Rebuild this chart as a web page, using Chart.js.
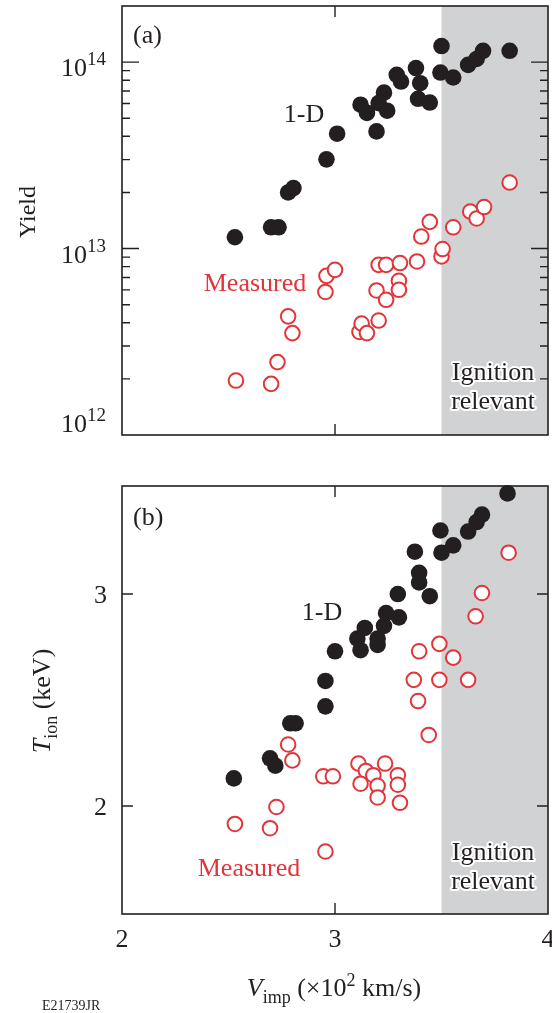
<!DOCTYPE html>
<html>
<head>
<meta charset="utf-8">
<script src="https://cdn.jsdelivr.net/npm/chart.js@4/dist/chart.umd.min.js"></script>
<style>
  html, body { margin: 0; padding: 0; background: #fff; }
  #wrap { position: relative; width: 552px; height: 1013px; }
  #wrap canvas { position: absolute; left: 0; top: 0; }
</style>
</head>
<body>
<div id="wrap">
  <canvas id="c_a" width="552" height="1013"></canvas>
  <canvas id="c_b" width="552" height="1013"></canvas>
</div>
<script>
// ---- data ----
// (a) neutron yield vs implosion velocity (x10^2 km/s)
var vYield1D = [2.53, 2.70, 2.735, 2.78, 2.805, 2.96, 3.01, 3.195, 3.12, 3.15, 3.205, 3.23, 3.245,
                3.29, 3.31, 3.38, 3.40, 3.39, 3.445, 3.50, 3.495, 3.555, 3.625, 3.665, 3.695, 3.82];
var yield1D  = [1.15e13, 1.30e13, 1.30e13, 2.00e13, 2.11e13, 3.01e13, 4.13e13, 4.25e13, 5.91e13, 5.34e13, 6.03e13, 6.87e13, 5.49e13,
                8.55e13, 7.87e13, 9.29e13, 7.71e13, 6.36e13, 6.07e13, 1.22e14, 8.79e13, 8.27e13, 9.67e13, 1.04e14, 1.15e14, 1.15e14];

var vYieldMeas = [2.535, 2.70, 2.73, 2.78, 2.80, 2.955, 2.96, 3.00, 3.115, 3.125, 3.15, 3.205, 3.195, 3.24, 3.205,
                  3.24, 3.305, 3.30, 3.30, 3.385, 3.405, 3.445, 3.50, 3.505, 3.555, 3.635, 3.665, 3.70, 3.82];
var yieldMeas  = [1.96e12, 1.88e12, 2.46e12, 4.33e12, 3.52e12, 5.85e12, 7.14e12, 7.69e12, 3.57e12, 3.96e12, 3.52e12, 4.11e12, 5.96e12, 5.31e12, 8.18e12,
                  8.18e12, 8.36e12, 6.72e12, 6.01e12, 8.53e12, 1.16e13, 1.39e13, 9.08e12, 9.94e12, 1.30e13, 1.58e13, 1.45e13, 1.67e13, 2.26e13];

// (b) ion temperature (keV) vs implosion velocity
var vTion1D = [2.525, 2.695, 2.72, 2.79, 2.815, 2.955, 2.955, 3.00, 3.105, 3.12, 3.14, 3.20, 3.20, 3.23,
               3.24, 3.30, 3.295, 3.375, 3.395, 3.395, 3.445, 3.495, 3.50, 3.555, 3.625, 3.665, 3.69, 3.81];
var tion1D  = [2.13, 2.225, 2.19, 2.39, 2.39, 2.47, 2.59, 2.73, 2.79, 2.735, 2.84, 2.79, 2.76, 2.85,
               2.91, 2.89, 3.00, 3.20, 3.10, 3.055, 2.99, 3.30, 3.195, 3.23, 3.295, 3.34, 3.375, 3.475];

var vTionMeas = [2.53, 2.695, 2.725, 2.78, 2.80, 2.945, 2.99, 2.955, 3.11, 3.235, 3.145, 3.18, 3.295, 3.12, 3.20,
                 3.295, 3.20, 3.305, 3.37, 3.39, 3.44, 3.395, 3.49, 3.49, 3.555, 3.625, 3.66, 3.69, 3.815];
var tionMeas  = [1.915, 1.895, 1.995, 2.29, 2.215, 2.14, 2.14, 1.785, 2.20, 2.20, 2.165, 2.145, 2.145, 2.105, 2.095,
                 2.10, 2.04, 2.015, 2.595, 2.495, 2.335, 2.73, 2.765, 2.595, 2.70, 2.595, 2.895, 3.005, 3.195];

var xTicks = [2, 3, 4];
var yieldTicks = [1e12, 1e13, 1e14];
var tionTicks = [2, 3];
var ignitionStart = 3.5;

// ---- styling ----
var INK = '#231f20';
var RED = '#e3343a';
var SHADE = '#d1d2d4';
var SERIF = '"Liberation Serif", "Times New Roman", "DejaVu Serif", serif';

function pts(xs, ys) {
    return xs.map(function(x, i) { return {x: x, y: ys[i]}; });
}

function font(size, italic) {
    return (italic ? 'italic ' : '') + size + 'px ' + SERIF;
}

// draw a run of text pieces [{t, size, dy, it}] ; align 'left' | 'center' | 'right'
function richText(ctx, parts, x, y, align) {
    var w = 0;
    parts.forEach(function(p) { ctx.font = font(p.size, p.it); w += ctx.measureText(p.t).width; });
    var cx = align === 'center' ? x - w / 2 : (align === 'right' ? x - w : x);
    ctx.textAlign = 'left';
    ctx.textBaseline = 'alphabetic';
    parts.forEach(function(p) {
        ctx.font = font(p.size, p.it);
        ctx.fillText(p.t, cx, y + (p.dy || 0));
        cx += ctx.measureText(p.t).width;
    });
}

function haloText(ctx, txt, x, y) {
    ctx.font = font(26);
    ctx.textAlign = 'center';
    ctx.textBaseline = 'alphabetic';
    ctx.lineJoin = 'round';
    ctx.strokeStyle = '#fff';
    ctx.lineWidth = 4;
    ctx.strokeText(txt, x, y);
    ctx.fillStyle = INK;
    ctx.fillText(txt, x, y);
}

function tickPair(ctx, area, yPix, len) {
    ctx.moveTo(area.left, yPix); ctx.lineTo(area.left + len, yPix);
    ctx.moveTo(area.right, yPix); ctx.lineTo(area.right - len, yPix);
}

function xTickPair(ctx, area, xPix, len) {
    ctx.moveTo(xPix, area.top); ctx.lineTo(xPix, area.top + len);
    ctx.moveTo(xPix, area.bottom); ctx.lineTo(xPix, area.bottom - len);
}

var shadePlugin = {
    id: 'shade',
    beforeDatasetsDraw: function(chart) {
        var a = chart.chartArea, ctx = chart.ctx;
        var x0 = chart.scales.x.getPixelForValue(ignitionStart);
        ctx.save();
        ctx.fillStyle = SHADE;
        ctx.fillRect(x0, a.top, a.right - x0, a.bottom - a.top);
        ctx.restore();
    }
};

// panel (a): frame, log ticks, labels
var panelA = {
    id: 'panelA',
    afterDraw: function(chart) {
        var a = chart.chartArea, ctx = chart.ctx, xs = chart.scales.x, ys = chart.scales.y;
        ctx.save();
        ctx.strokeStyle = INK;
        ctx.lineWidth = 1.4;
        ctx.beginPath();
        yieldTicks.forEach(function(t) {
            if (t > ys.min && t < ys.max) tickPair(ctx, a, ys.getPixelForValue(t), 17);
            for (var m = 2; m <= 9; m++) {
                var v = t * m;
                if (v < ys.max) tickPair(ctx, a, ys.getPixelForValue(v), 8);
            }
        });
        xTicks.forEach(function(t) {
            if (t > xs.min && t < xs.max) xTickPair(ctx, a, xs.getPixelForValue(t), 11);
        });
        ctx.stroke();
        ctx.lineWidth = 1.6;
        ctx.strokeRect(a.left, a.top, a.right - a.left, a.bottom - a.top);

        ctx.fillStyle = INK;
        yieldTicks.forEach(function(t) {
            var yp = Math.min(ys.getPixelForValue(t) + 14, a.bottom - 3);
            var e = Math.round(Math.log10(t));
            richText(ctx, [{t: '10', size: 26}, {t: String(e), size: 19, dy: -11}], 106, yp, 'right');
        });

        ctx.save();
        ctx.translate(35, 212);
        ctx.rotate(-Math.PI / 2);
        richText(ctx, [{t: 'Yield', size: 24}], 0, 0, 'center');
        ctx.restore();

        richText(ctx, [{t: '(a)', size: 26}], 133, 43, 'left');
        richText(ctx, [{t: '1-D', size: 26}], 304, 122, 'center');
        ctx.fillStyle = RED;
        richText(ctx, [{t: 'Measured', size: 26}], 255, 291, 'center');
        haloText(ctx, 'Ignition', 493, 380);
        haloText(ctx, 'relevant', 493, 409);
        ctx.restore();
    }
};

// panel (b): frame, linear ticks, x axis, labels
var panelB = {
    id: 'panelB',
    afterDraw: function(chart) {
        var a = chart.chartArea, ctx = chart.ctx, xs = chart.scales.x, ys = chart.scales.y;
        ctx.save();
        ctx.strokeStyle = INK;
        ctx.lineWidth = 1.4;
        ctx.beginPath();
        tionTicks.forEach(function(t) { tickPair(ctx, a, ys.getPixelForValue(t), 11); });
        xTicks.forEach(function(t) {
            if (t > xs.min && t < xs.max) xTickPair(ctx, a, xs.getPixelForValue(t), 11);
        });
        ctx.stroke();
        ctx.lineWidth = 1.6;
        ctx.strokeRect(a.left, a.top, a.right - a.left, a.bottom - a.top);

        ctx.fillStyle = INK;
        tionTicks.forEach(function(t) {
            richText(ctx, [{t: String(t), size: 26}, ], 107, ys.getPixelForValue(t) + 9, 'right');
        });
        xTicks.forEach(function(t) {
            richText(ctx, [{t: String(t), size: 26}], xs.getPixelForValue(t), a.bottom + 33, 'center');
        });

        ctx.save();
        ctx.translate(50, 701);
        ctx.rotate(-Math.PI / 2);
        richText(ctx, [{t: 'T', size: 26, it: true}, {t: 'ion', size: 18, dy: 7}, {t: ' (keV)', size: 26}], 0, 0, 'center');
        ctx.restore();

        richText(ctx, [{t: 'V', size: 26, it: true}, {t: 'imp', size: 18, dy: 7}, {t: ' (\u00d710', size: 26},
                       {t: '2', size: 18, dy: -10}, {t: ' km/s)', size: 26}], 334, 996, 'center');
        richText(ctx, [{t: 'E21739JR', size: 14}], 42, 1010, 'left');

        richText(ctx, [{t: '(b)', size: 26}], 133, 525, 'left');
        richText(ctx, [{t: '1-D', size: 26}], 322, 620, 'center');
        ctx.fillStyle = RED;
        richText(ctx, [{t: 'Measured', size: 26}], 249, 876, 'center');
        haloText(ctx, 'Ignition', 493, 860);
        haloText(ctx, 'relevant', 493, 889);
        ctx.restore();
    }
};

function makeDatasets(xA, yA, xB, yB) {
    return [
        { label: '1-D', data: pts(xA, yA), pointRadius: 8.3, pointHoverRadius: 8.3,
          backgroundColor: INK, borderWidth: 0, clip: false },
        { label: 'Measured', data: pts(xB, yB), pointRadius: 7.3, pointHoverRadius: 7.3,
          backgroundColor: '#fff', borderColor: RED, borderWidth: 2, clip: false }
    ];
}

function baseOptions(pad, yScale) {
    return {
        responsive: false,
        animation: false,
        events: [],
        layout: { padding: pad, autoPadding: false },
        plugins: { legend: { display: false }, tooltip: { enabled: false } },
        scales: {
            x: { type: 'linear', min: 2, max: 4, display: false },
            y: yScale
        }
    };
}

new Chart(document.getElementById('c_a').getContext('2d'), {
    type: 'scatter',
    data: { datasets: makeDatasets(vYield1D, yield1D, vYieldMeas, yieldMeas) },
    options: baseOptions({ left: 122, right: 4, top: 6, bottom: 578 },
                         { type: 'logarithmic', min: 1e12, max: 2e14, display: false }),
    plugins: [shadePlugin, panelA]
});

new Chart(document.getElementById('c_b').getContext('2d'), {
    type: 'scatter',
    data: { datasets: makeDatasets(vTion1D, tion1D, vTionMeas, tionMeas) },
    options: baseOptions({ left: 122, right: 4, top: 486, bottom: 99 },
                         { type: 'linear', min: 1.49, max: 3.51, display: false }),
    plugins: [shadePlugin, panelB]
});
</script>
</body>
</html>
